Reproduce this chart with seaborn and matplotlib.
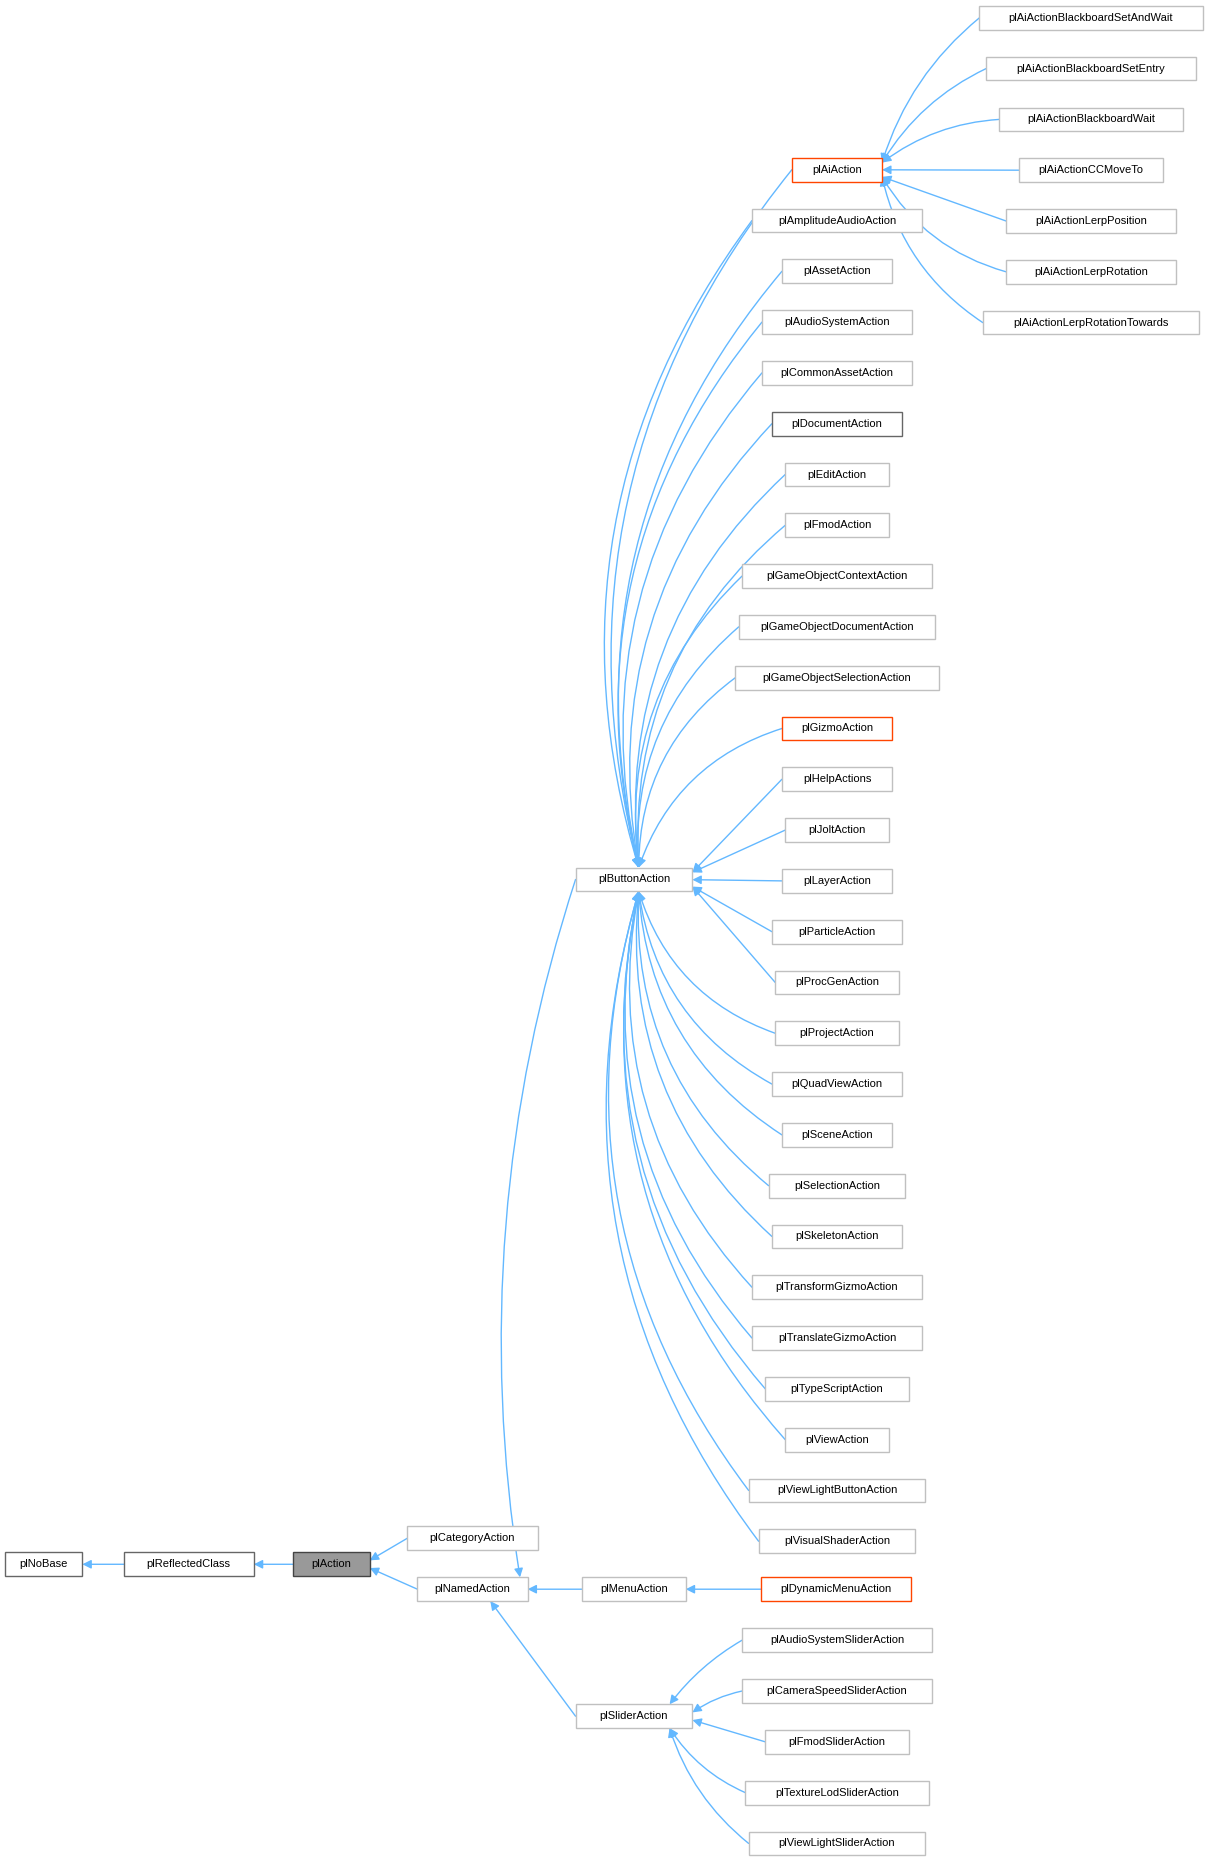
import matplotlib
matplotlib.use("Agg")
import matplotlib.pyplot as plt
import seaborn as sns
from matplotlib.patches import FancyArrowPatch, Rectangle

# ── data: class hierarchy ────────────────────────────────────────────────────
chain = ["plNoBase", "plReflectedClass", "plAction"]
action_children = ["plCategoryAction", "plNamedAction"]
named_children = ["plButtonAction", "plMenuAction", "plSliderAction"]
menu_children = ["plDynamicMenuAction"]
button_children = [
    "plAiAction", "plAmplitudeAudioAction", "plAssetAction", "plAudioSystemAction",
    "plCommonAssetAction", "plDocumentAction", "plEditAction", "plFmodAction",
    "plGameObjectContextAction", "plGameObjectDocumentAction",
    "plGameObjectSelectionAction", "plGizmoAction", "plHelpActions", "plJoltAction",
    "plLayerAction", "plParticleAction", "plProcGenAction", "plProjectAction",
    "plQuadViewAction", "plSceneAction", "plSelectionAction", "plSkeletonAction",
    "plTransformGizmoAction", "plTranslateGizmoAction", "plTypeScriptAction",
    "plViewAction", "plViewLightButtonAction", "plVisualShaderAction",
]
ai_children = [
    "plAiActionBlackboardSetAndWait", "plAiActionBlackboardSetEntry",
    "plAiActionBlackboardWait", "plAiActionCCMoveTo", "plAiActionLerpPosition",
    "plAiActionLerpRotation", "plAiActionLerpRotationTowards",
]
slider_children = [
    "plAudioSystemSliderAction", "plCameraSpeedSliderAction", "plFmodSliderAction",
    "plTextureLodSliderAction", "plViewLightSliderAction",
]
red_nodes = ["plAiAction", "plGizmoAction", "plDynamicMenuAction"]
dark_nodes = ["plNoBase", "plReflectedClass", "plDocumentAction"]
focus_node = "plAction"

EDGE = "#63b8ff"
STEP = 42.8
H = 20

sns.set_style("white")
plt.rcParams["font.family"] = ["Liberation Sans", "DejaVu Sans"]

fig = plt.figure(figsize=(12.05, 18.61), dpi=100)
ax = fig.add_axes([0, 0, 1, 1])
ax.set_xlim(0, 1015)
ax.set_ylim(1568, 0)
ax.axis("off")

boxes = {}


def width(name):
    return 5.6 * len(name) + 20


def node(name, cx, cy):
    w = width(name)
    ec, fc = "#c0c0c0", "white"
    if name in red_nodes:
        ec = "#ff4500"
    elif name in dark_nodes:
        ec = "#666666"
    if name == focus_node:
        ec, fc = "#444444", "#999999"
    ax.add_patch(Rectangle((cx - w / 2, cy - H / 2), w, H, fc=fc, ec=ec, lw=1, zorder=3))
    ax.text(cx, cy, name, ha="center", va="center", fontsize=8, color="black", zorder=4)
    boxes[name] = (cx, cy, w)


def edge(child, parent, rad=0.0, end=None):
    cx, cy, cw = boxes[child]
    px, py, pw = boxes[parent]
    start = (cx - cw / 2, cy)
    if end is None:
        end = (px + pw / 2, py + max(-6, min(6, (cy - py) * 0.15)))
    a = FancyArrowPatch(start, end, arrowstyle="-|>", mutation_scale=13,
                        color=EDGE, lw=1, shrinkA=0, shrinkB=0,
                        connectionstyle=f"arc3,rad={rad}", zorder=2)
    ax.add_patch(a)


# ── layout ───────────────────────────────────────────────────────────────────
for name, x in zip(chain, [37, 159, 279]):
    node(name, x, 1318)
node("plCategoryAction", 398, 1296)
node("plNamedAction", 398, 1339)
node("plButtonAction", 534, 741)
node("plMenuAction", 534, 1339)
node("plSliderAction", 534, 1446)
node("plDynamicMenuAction", 704, 1339)
for i, n in enumerate(button_children):
    node(n, 705, 143 + i * STEP)
for i, n in enumerate(ai_children):
    node(n, 919, 15 + i * STEP)
for i, n in enumerate(slider_children):
    node(n, 705, 1382 + i * STEP)

# ── edges ────────────────────────────────────────────────────────────────────
edge("plReflectedClass", "plNoBase")
edge("plAction", "plReflectedClass")
for c in action_children:
    edge(c, "plAction")
edge("plButtonAction", "plNamedAction", rad=0.12,
     end=(boxes["plNamedAction"][0] + 40, 1329))
edge("plMenuAction", "plNamedAction")
edge("plSliderAction", "plNamedAction", end=(boxes["plNamedAction"][0] + 15, 1349))
edge("plDynamicMenuAction", "plMenuAction")

bx, by, bw = boxes["plButtonAction"]
for n in button_children:
    cy = boxes[n][1]
    d = cy - by
    if abs(d) < 90:
        edge(n, "plButtonAction")
    else:
        rad = 0.25 if d < 0 else -0.25
        ey = by - H / 2 if d < 0 else by + H / 2
        edge(n, "plButtonAction", rad=rad, end=(bx + 4, ey))

for n in ai_children:
    d = boxes[n][1] - boxes["plAiAction"][1]
    edge(n, "plAiAction", rad=0.15 if d < 0 else (-0.2 if d > 50 else 0))
for n in slider_children:
    d = boxes[n][1] - boxes["plSliderAction"][1]
    edge(n, "plSliderAction", rad=0.1 if d < 0 else (-0.15 if d > 40 else 0),
         end=(boxes["plSliderAction"][0] + 30, boxes["plSliderAction"][1] + (d > 0) * 10 - (d < 0) * 10)
         if abs(d) > 40 else None)

fig.savefig("out.png", dpi=100, facecolor="white")
